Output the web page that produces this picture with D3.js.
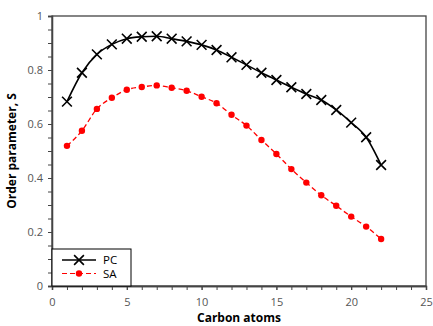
<!DOCTYPE html>
<html>
<head>
<meta charset="utf-8">
<script src="https://cdn.jsdelivr.net/npm/d3@7"></script>
<style>
  body { margin: 0; background: #fff; }
  text { font-family: "Open Sans", sans-serif; }
</style>
</head>
<body>
<div id="chart"></div>
<script>
// Data
const carbons = [1, 2, 3, 4, 5, 6, 7, 8, 9, 10, 11, 12, 13, 14, 15, 16, 17, 18, 19, 20, 21, 22]
const pcValues = [0.683, 0.790, 0.858, 0.895, 0.916, 0.923, 0.925, 0.916, 0.906, 0.893, 0.874,
    0.847, 0.819, 0.790, 0.763, 0.736, 0.711, 0.689, 0.652, 0.605, 0.551, 0.448]
const saValues = [0.519, 0.575, 0.656, 0.697, 0.727, 0.737, 0.743, 0.734, 0.723, 0.701, 0.677,
    0.634, 0.594, 0.541, 0.489, 0.433, 0.383, 0.336, 0.297, 0.257, 0.220, 0.174]
const xTicks = [0, 5, 10, 15, 20, 25]
const yTicks = [0, 0.2, 0.4, 0.6, 0.8, 1]
const seriesNames = ["PC", "SA"]

const W = 433, H = 326
const margin = { top: 16, right: 7, bottom: 40, left: 52 },
    width = W - margin.left - margin.right,
    height = H - margin.top - margin.bottom

const svg = d3.select("#chart")
    .append("svg")
    .attr("width", W)
    .attr("height", H)
    .append("g")
    .attr("transform", `translate(${margin.left}, ${margin.top})`)

const x = d3.scaleLinear().domain([0, 25]).range([0, width])
const y = d3.scaleLinear().domain([0, 1]).range([height, 0])

const axisColor = "#444"

// frame
svg.append("rect")
    .attr("width", width).attr("height", height)
    .attr("fill", "none").attr("stroke", axisColor).attr("stroke-width", 1.3)

// minor ticks (unlabelled)
const xAxisMinor = svg.append("g").attr("transform", `translate(0, ${height})`)
    .call(d3.axisBottom(x).tickValues(d3.range(0, 26, 1)).tickSize(4).tickFormat(""))
const yAxisMinor = svg.append("g")
    .call(d3.axisLeft(y).tickValues(d3.range(0, 1.001, 0.05)).tickSize(4).tickFormat(""))

// labelled ticks
const xAxis = svg.append("g").attr("transform", `translate(0, ${height})`)
    .call(d3.axisBottom(x).tickValues(xTicks).tickSize(4).tickPadding(8).tickFormat(d3.format("d")))
const yAxis = svg.append("g")
    .call(d3.axisLeft(y).tickValues(yTicks).tickSize(4).tickPadding(5).tickFormat(d => d === 0 || d === 1 ? d : d3.format(".1f")(d)))

;[xAxisMinor, yAxisMinor, xAxis, yAxis].forEach(g => {
    g.select(".domain").attr("stroke", axisColor).attr("stroke-width", 1.3)
    g.selectAll(".tick line").attr("stroke", axisColor).attr("stroke-width", 1)
    g.selectAll(".tick text").attr("fill", "#555").style("font-size", "11px")
        .style("font-family", "'Open Sans', sans-serif")
})

// axis titles
svg.append("text")
    .text("Carbon atoms")
    .attr("text-anchor", "middle")
    .attr("x", width / 2)
    .attr("y", height + 36)
    .style("font-size", "12px")
    .style("font-weight", "bold")

svg.append("text")
    .text("Order parameter, S")
    .attr("text-anchor", "middle")
    .attr("transform", `translate(${-36}, ${height / 2}) rotate(-90)`)
    .style("font-size", "12px")
    .style("font-weight", "bold")

const line = d3.line().x((d, i) => x(carbons[i])).y(d => y(d)).curve(d3.curveMonotoneX)

// PC series
svg.append("path")
    .datum(pcValues)
    .attr("fill", "none").attr("stroke", "black").attr("stroke-width", 1.6)
    .attr("d", line)

const cross = d3.symbol().type(d3.symbolTimes).size(64)
svg.selectAll(".pc")
    .data(pcValues)
    .join("path")
    .attr("class", "pc")
    .attr("transform", (d, i) => `translate(${x(carbons[i])}, ${y(d)})`)
    .attr("d", cross)
    .attr("fill", "none").attr("stroke", "black").attr("stroke-width", 1.6)

// SA series
svg.append("path")
    .datum(saValues)
    .attr("fill", "none").attr("stroke", "red").attr("stroke-width", 1.3)
    .attr("stroke-dasharray", "5,3")
    .attr("d", line)

svg.selectAll(".sa")
    .data(saValues)
    .join("circle")
    .attr("class", "sa")
    .attr("cx", (d, i) => x(carbons[i]))
    .attr("cy", d => y(d))
    .attr("r", 3.2)
    .attr("fill", "red")

// legend
const legend = svg.append("g").attr("transform", `translate(0, ${height - 37})`)
legend.append("rect")
    .attr("width", 79).attr("height", 37)
    .attr("fill", "white").attr("stroke", "black").attr("stroke-width", 1)

seriesNames.forEach((name, i) => {
    const ly = 11 + i * 13.5
    const row = legend.append("g").attr("transform", `translate(0, ${ly})`)
    row.append("line")
        .attr("x1", 10).attr("x2", 44)
        .attr("stroke", i === 0 ? "black" : "red")
        .attr("stroke-width", i === 0 ? 1.6 : 1.2)
        .attr("stroke-dasharray", i === 0 ? null : "5,3")
    if (i === 0) {
        row.append("path").attr("transform", "translate(27, 0)")
            .attr("d", cross).attr("fill", "none").attr("stroke", "black").attr("stroke-width", 1.6)
    } else {
        row.append("circle").attr("cx", 27).attr("r", 3.2).attr("fill", "red")
    }
    row.append("text")
        .text(name)
        .attr("x", 51)
        .attr("dy", "0.35em")
        .style("font-size", "11.5px")
})
</script>
</body>
</html>
